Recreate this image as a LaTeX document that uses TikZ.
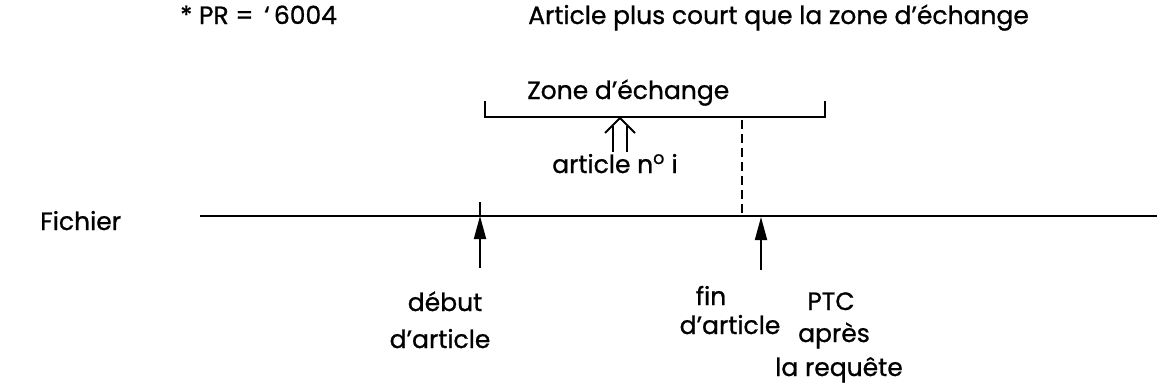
\documentclass[tikz,border=0pt]{standalone}
\usepackage{fontspec}
\setmainfont{Poppins}[FakeBold=0.9]
\usetikzlibrary{arrows.meta}
\begin{document}
\begin{tikzpicture}[x=1pt,y=-1pt,
  lbl/.style={font=\fontsize{25}{29}\selectfont, inner sep=0pt, anchor=base},
  ln/.style={line width=2pt},
  fileline/.style={line width=2.8pt},
  uparrow/.style={line width=1.8pt, -{Triangle[length=23pt,width=12pt]}},
  dashln/.style={line width=1.8pt, dash pattern=on 9pt off 5pt},
]
\useasboundingbox (0,0) rectangle (1158,389);
% top texts
\node[lbl, anchor=base west] (pr) at (180,24) {* PR = \,‘\,6004};
\node[lbl, anchor=base west] (title) at (528,24) {Article plus court que la zone d’échange};
% exchange zone bracket
\node[lbl, anchor=base west] (zone) at (527,99) {Zone d’échange};
\coordinate (blt) at (485,101);
\coordinate (bl) at (485,117);
\coordinate (br) at (825,117);
\coordinate (brt) at (825,101);
\draw[ln] (blt) -- (bl) -- (br) -- (brt);
% article n i with double arrow
\node[lbl, anchor=base west] (art) at (552,173) {article n\textsuperscript{o} i};
\coordinate (apex) at (620,118);
\draw[ln] ([shift={(-7,34)}]apex) -- ([shift={(-7,8)}]apex);
\draw[ln] ([shift={(7,34)}]apex) -- ([shift={(7,8)}]apex);
\draw[ln] ([shift={(-15,15)}]apex) -- (apex) -- ([shift={(15,15)}]apex);
% dashed line
\coordinate (dtop) at (742,120);
\coordinate (dbot) at (742,216);
\draw[dashln] (dtop) -- (dbot);
% file line
\node[lbl, anchor=base west] (fichier) at (40,230) {Fichier};
\coordinate (fs) at (200,216);
\coordinate (fe) at (1157,216);
\draw[fileline] (fs) -- (fe);
% debut arrow
\coordinate (dtip) at (480,216);
\coordinate (dbase) at (480,268);
\coordinate (dtick) at (480,202);
\draw[uparrow] (dbase) -- (dtip);
\draw[ln] (dtip) -- (dtick);
\node[lbl] (debut) at (445,311) {début};
\node[lbl] (darticle1) at (440,348) {d’article};
% fin arrow
\coordinate (ftip) at (761,217);
\coordinate (fbase) at (761,270);
\draw[uparrow] (fbase) -- (ftip);
\node[lbl] (fin) at (711,305) {fin};
\node[lbl] (darticle2) at (730,334) {d’article};
\node[lbl] (ptc) at (831,310) {PTC};
\node[lbl] (apres) at (834,342) {après};
\node[lbl] (requete) at (839,376) {la requête};
\end{tikzpicture}
\end{document}
